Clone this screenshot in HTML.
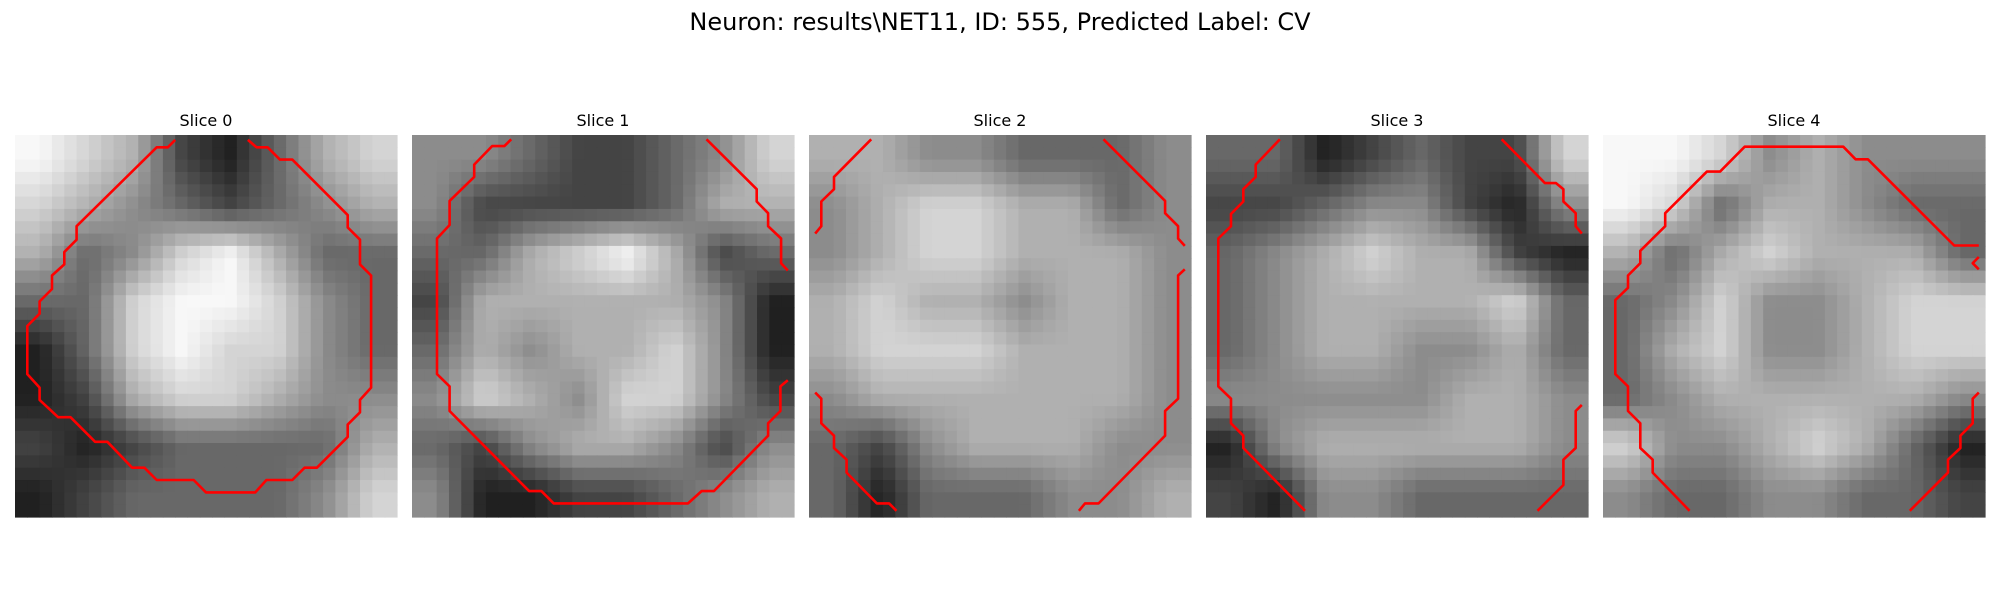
<!DOCTYPE html>
<html><head><meta charset="utf-8"><style>
body{margin:0;background:#fff;width:2000px;height:600px;overflow:hidden}
svg{display:block}
text{font-family:"DejaVu Sans","Liberation Sans",sans-serif;fill:#000}
</style></head><body>
<svg id="fig" width="2000" height="600" viewBox="0 0 2000 600" xmlns="http://www.w3.org/2000/svg">
<text x="1000" y="30" font-size="24" text-anchor="middle">Neuron: results\NET11, ID: 555, Predicted Label: CV</text>
</svg>
<script>
// coarse intensity estimates (0-9), 8x8 per slice
const slice0 = [[8,7,6,3,2,4,6,7],[7,6,5,4,3,4,5,6],[6,4,5,7,8,6,4,4],[4,4,7,8,8,7,5,4],[2,4,7,8,7,7,5,4],[2,3,6,7,7,6,5,5],[3,2,3,4,4,4,4,6],[2,3,4,4,4,4,5,7]];
const slice1 = [[5,5,4,3,3,4,5,7],[5,3,3,3,3,4,6,6],[4,4,6,7,8,6,3,4],[3,6,6,6,6,6,5,2],[4,6,5,6,6,7,5,2],[5,7,6,5,7,7,5,3],[4,3,5,6,6,5,3,5],[5,2,2,3,3,4,5,6]];
const slice2 = [[6,6,5,5,4,4,4,5],[5,6,7,7,6,6,4,5],[5,6,7,7,6,6,6,5],[6,7,6,6,5,6,6,5],[6,7,7,7,6,6,6,5],[5,6,6,6,6,6,6,5],[4,3,5,6,6,6,5,5],[4,2,4,4,4,5,5,6]];
const slice3 = [[4,4,2,3,4,3,3,7],[3,3,4,5,5,3,2,5],[4,5,6,7,6,6,3,2],[4,5,6,6,6,6,7,4],[4,5,6,6,5,5,6,4],[5,5,5,5,5,6,6,5],[2,5,6,6,6,6,6,5],[3,2,5,5,4,4,4,4]];
const slice4 = [[8,8,7,5,6,5,5,5],[8,7,4,6,6,5,4,4],[6,4,6,7,6,6,6,4],[4,5,7,5,5,6,7,7],[4,6,7,5,5,6,7,7],[4,5,6,6,6,6,6,5],[7,5,5,6,7,6,4,2],[5,4,4,5,5,4,4,3]];
const slices = [slice0, slice1, slice2, slice3, slice4];
const sliceLabels = ["Slice 0","Slice 1","Slice 2","Slice 3","Slice 4"];
// contour polylines in pixel-grid coords (31x31 grid)
const contours0 = [[[13,0.4],[12.4,1],[11.5,1],[5,7.4],[5,8.5],[4,9.5],[4,10.5],[3,11.4],[3,12.5],[2,13.5],[2,14.5],[1,15.5],[1,19.4],[2,20.5],[2,21.5],[3.5,22.9],[4.5,22.9],[6.5,24.9],[7.5,24.9],[9.5,27],[10.5,27],[11.5,28],[14.5,28],[15.5,29],[19.5,29],[20.4,28],[22.5,28],[23.5,27],[24.5,27],[27,24.5],[27,23.5],[28,22.5],[28,21.5],[28.9,20.5],[28.9,11.4],[28,10.5],[28,8.5],[27,7.5],[27,6.5],[22.5,2],[21.5,2],[20.5,1],[19.6,1],[18.9,0.4]]];
const contours1 = [[[8.05,0.35],[7.5,0.9],[6.5,0.9],[5.05,2.4],[5.05,3.4],[3.05,5.35],[3.05,7.3],[2.03,8.4],[2.03,19.4],[3.05,20.4],[3.05,22.4],[9.5,28.9],[10.5,28.9],[11.5,29.9],[22.4,29.9],[23.5,28.9],[24.5,28.9],[28.9,24.4],[28.9,23.4],[29.9,22.4],[29.9,20.4],[30.5,19.9]],[[23.9,0.35],[27.97,4.4],[27.97,5.4],[28.9,6.35],[28.9,7.4],[29.95,8.4],[29.95,10.4],[30.5,11]]];
const contours2 = [[[5.05,0.35],[2.03,3.4],[2.03,4.4],[1,5.4],[1,7.4],[0.5,8]],[[23.9,0.35],[28.9,5.35],[28.9,6.35],[29.95,7.4],[29.95,8.4],[30.5,9]],[[30.5,10.9],[29.95,11.4],[29.95,21.4],[28.9,22.4],[28.9,24.4],[23.5,29.9],[22.4,29.9],[21.9,30.5]],[[0.5,20.9],[1,21.4],[1,23.4],[2.03,24.4],[2.03,25.4],[3.05,26.35],[3.05,27.4],[5.5,29.9],[6.5,29.9],[7.1,30.5]]];
const contours3 = [[[6,0.35],[4.03,2.4],[4.03,3.4],[3.03,4.4],[3.03,5.4],[2.03,6.4],[2.03,7.4],[1,8.4],[1,20.4],[2.03,21.4],[2.03,23.4],[3.03,24.4],[3.03,25.4],[8.03,30.5]],[[24,0.35],[27.5,3.9],[28.4,3.9],[29,4.4],[29,5.4],[30,6.35],[30,7.4],[30.5,8]],[[30.5,21.9],[30,22.4],[30,25.4],[29,26.35],[29,28.4],[26.9,30.5]]];
const contours4 = [[[7.03,30.5],[4.03,27.4],[4.03,26.35],[3.03,25.4],[3.03,23.4],[2.03,22.4],[2.03,20.4],[1,19.4],[1,13.4],[2.03,12.4],[2.03,11.4],[3.03,10.4],[3.03,9.4],[5.05,7.4],[5.05,6.35],[8.43,2.97],[9.5,2.97],[11.5,0.95],[19.5,0.95],[20.5,1.97],[21.5,1.97],[28.5,8.97],[30.5,8.97]],[[30.5,9.9],[30,10.4],[30.5,10.9]],[[30.5,20.9],[30,21.4],[30,23.4],[29,24.4],[29,25.4],[28,26.35],[28,27.4],[24.9,30.5]]];
const contours = [contours0, contours1, contours2, contours3, contours4];

const NS = "http://www.w3.org/2000/svg";
const svg = document.getElementById('fig');
const N = 31, PW = 382, PY = 135;
const panelX = [15, 412, 809, 1206, 1603];
const cs = PW / N;
function sample(g, r, c) {
  const n = g.length;
  let u = (c + 0.5) / N * n - 0.5, v = (r + 0.5) / N * n - 0.5;
  u = Math.max(0, Math.min(n - 1, u)); v = Math.max(0, Math.min(n - 1, v));
  const c0 = Math.floor(u), r0 = Math.floor(v);
  const c1 = Math.min(n - 1, c0 + 1), r1 = Math.min(n - 1, r0 + 1);
  const fu = u - c0, fv = v - r0;
  const a = g[r0][c0] * (1 - fu) + g[r0][c1] * fu;
  const b = g[r1][c0] * (1 - fu) + g[r1][c1] * fu;
  return a * (1 - fv) + b * fv;
}
slices.forEach((g, k) => {
  const x0 = panelX[k];
  const grp = document.createElementNS(NS, 'g');
  
  
  svg.appendChild(grp);
  const t = document.createElementNS(NS, 'text');
  
  
  t.setAttribute('x', x0 + PW / 2); t.setAttribute('y', 126);
  t.setAttribute('font-size', '16'); t.setAttribute('text-anchor', 'middle');
  t.textContent = sliceLabels[k];
  grp.appendChild(t);
  for (let r = 0; r < N; r++) for (let c = 0; c < N; c++) {
    const v = sample(g, r, c);
    const gv = Math.round(Math.max(0, Math.min(255, 140 + (v - 5) * 36)));
    const rc = document.createElementNS(NS, 'rect');
    
    
    rc.setAttribute('x', (x0 + c * cs).toFixed(2)); rc.setAttribute('y', (PY + r * cs).toFixed(2));
    rc.setAttribute('width', (cs + 0.6).toFixed(2)); rc.setAttribute('height', (cs + 0.6).toFixed(2));
    rc.setAttribute('fill', `rgb(${gv},${gv},${gv})`);
    grp.appendChild(rc);
  }
  contours[k].forEach(line => {
    const pl = document.createElementNS(NS, 'polyline');
    
    
    pl.setAttribute('points', line.map(p => (x0 + p[0] * cs).toFixed(1) + ',' + (PY + p[1] * cs).toFixed(1)).join(' '));
    pl.setAttribute('fill', 'none'); pl.setAttribute('stroke', '#ff0000');
    pl.setAttribute('stroke-width', '2.6'); pl.setAttribute('stroke-linejoin', 'round');
    grp.appendChild(pl);
  });
});
</script>
</body></html>
